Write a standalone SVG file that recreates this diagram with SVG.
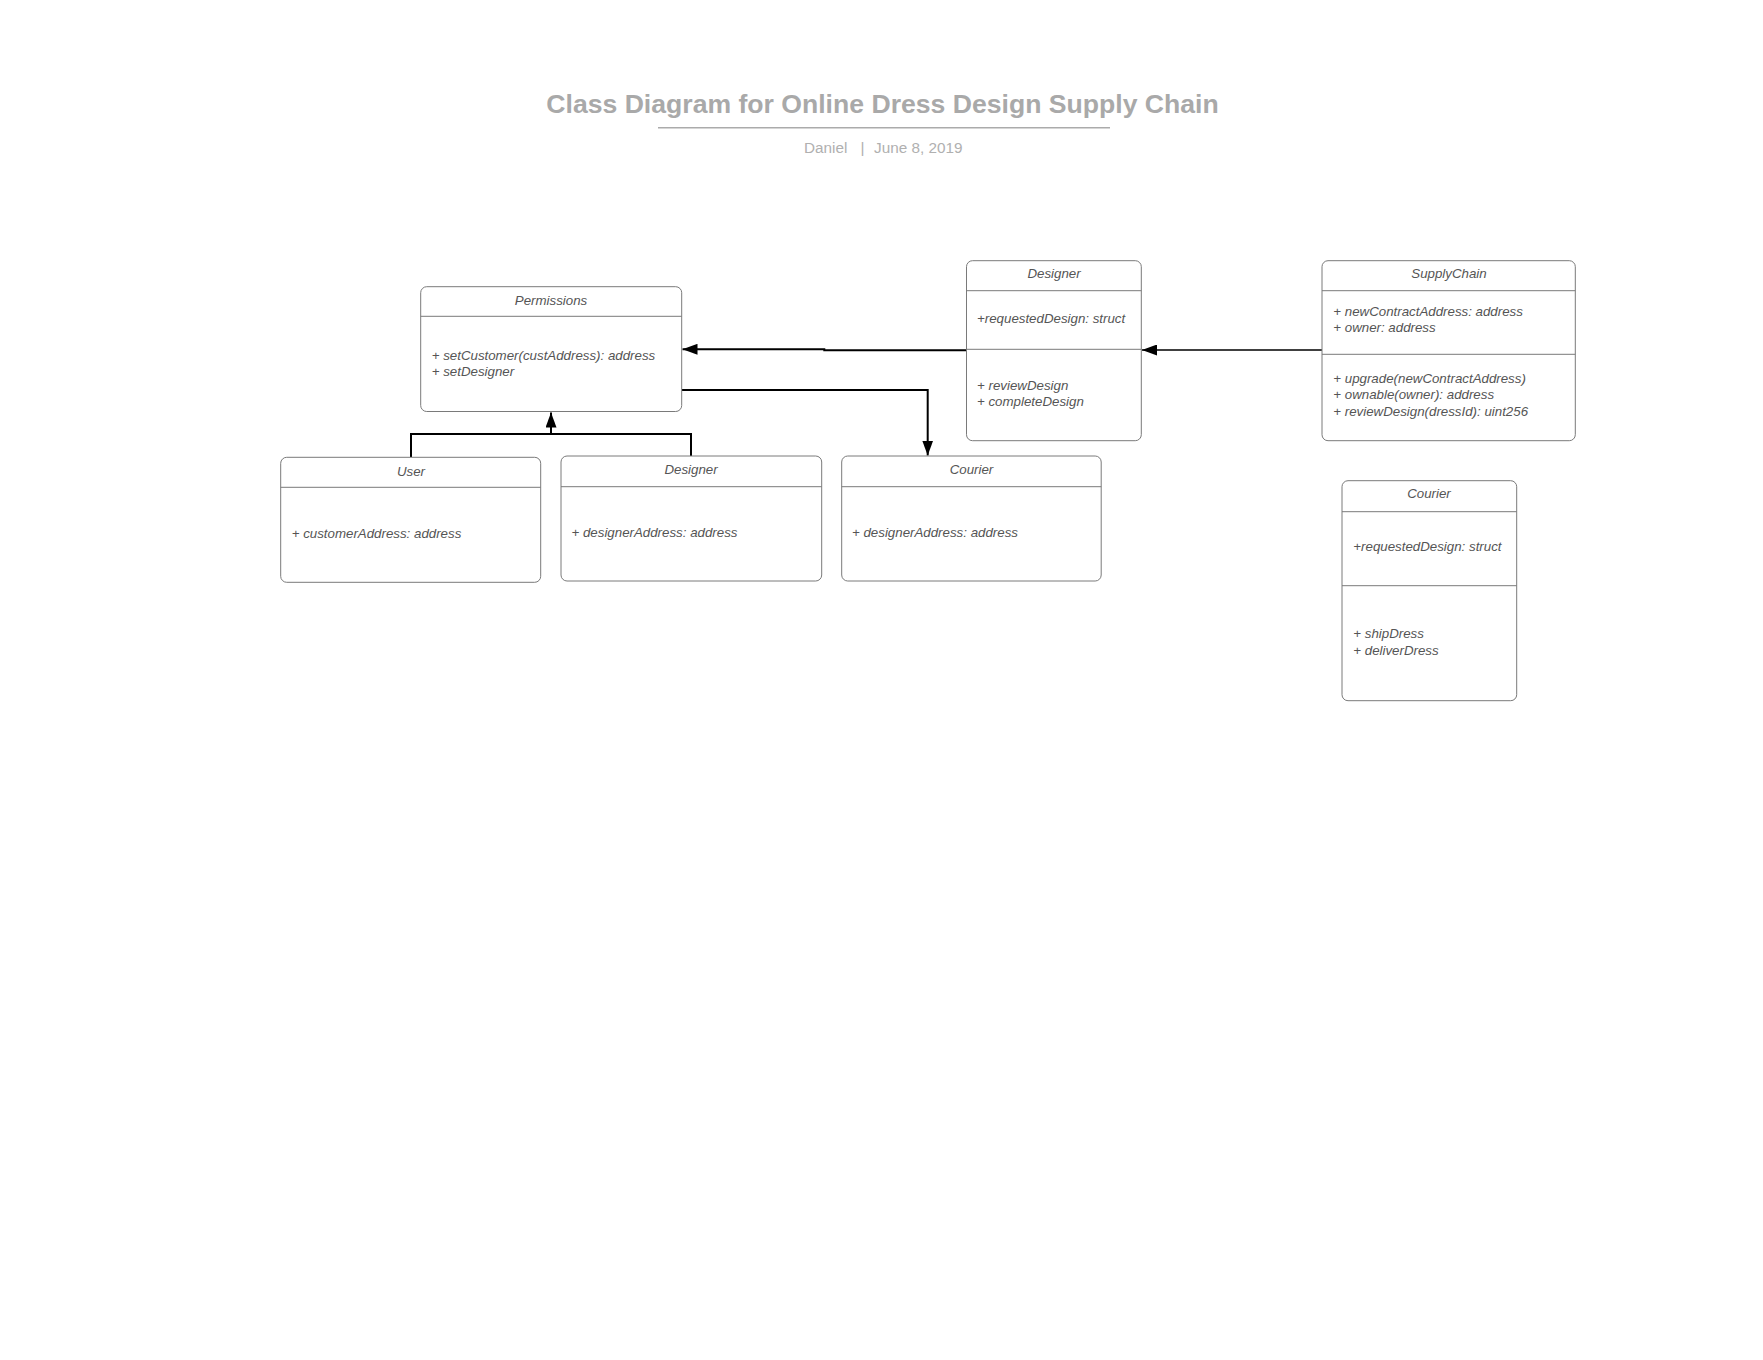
<svg xmlns="http://www.w3.org/2000/svg" width="1763" height="1360" viewBox="0 0 1763 1360">
<style>
  .box { fill: #ffffff; stroke: #7a7a7a; stroke-width: 1; }
  .sep { stroke: #7a7a7a; stroke-width: 1; fill: none; }
  .t { font-family: "Liberation Sans", Arial, sans-serif; font-size: 13.3px; font-style: italic; fill: #555555; }
  .c { text-anchor: middle; }
  .conn { fill: none; stroke: #000000; stroke-width: 2; }
  .thin { stroke-width: 1.4; }
  .title { font-family: "Liberation Sans", Arial, sans-serif; font-size: 26.6px; font-weight: bold; fill: #a9a9a9; }
  .sub { font-family: "Liberation Sans", Arial, sans-serif; font-size: 15.3px; fill: #b0b0b0; }
</style>
<defs>
  <marker id="arr" markerUnits="userSpaceOnUse" markerWidth="16" markerHeight="11" refX="15" refY="5.5" orient="auto">
    <path d="M0,0 L15,5.5 L0,11 Z" fill="#000000"/>
  </marker>
</defs>
<rect width="1763" height="1360" fill="#ffffff"/>

<g id="header">
  <text class="title" x="882.5" y="113.3" text-anchor="middle">Class Diagram for Online Dress Design Supply Chain</text>
  <line x1="658" y1="127.7" x2="1110" y2="127.7" stroke="#ababab" stroke-width="1.6"/>
  <text class="sub" x="804" y="153.3">Daniel</text>
  <text class="sub" x="860.5" y="153.3">|</text>
  <text class="sub" x="874" y="153.3">June 8, 2019</text>
</g>

<g id="connectors">
  <path class="conn" d="M411,457 V434 H691 V456"/>
  <path class="conn" d="M551,434 V412.5" marker-end="url(#arr)"/>
  <path class="conn" d="M966,350.3 H824.3 V349.3 H682.5" marker-end="url(#arr)"/>
  <path class="conn" d="M682,390 H927.7 V455.5" marker-end="url(#arr)"/>
  <path class="conn thin" d="M1322,350 H1142" marker-end="url(#arr)"/>
</g>

<g id="permissions">
  <rect class="box" x="420.7" y="286.7" width="261" height="124.8" rx="6"/>
  <line class="sep" x1="420.7" y1="316.3" x2="681.7" y2="316.3"/>
  <text class="t c" x="551" y="304.8">Permissions</text>
  <text class="t" x="431.7" y="359.8">+ setCustomer(custAddress): address</text>
  <text class="t" x="431.7" y="375.8">+ setDesigner</text>
</g>

<g id="user">
  <rect class="box" x="280.7" y="457.3" width="260" height="125" rx="6"/>
  <line class="sep" x1="280.7" y1="487.3" x2="540.7" y2="487.3"/>
  <text class="t c" x="411" y="475.5">User</text>
  <text class="t" x="291.7" y="538">+ customerAddress: address</text>
</g>

<g id="designer-sub">
  <rect class="box" x="561" y="456" width="260.7" height="125" rx="6"/>
  <line class="sep" x1="561" y1="486.7" x2="821.7" y2="486.7"/>
  <text class="t c" x="691" y="474">Designer</text>
  <text class="t" x="571.5" y="536.5">+ designerAddress: address</text>
</g>

<g id="courier-sub">
  <rect class="box" x="841.7" y="456" width="259.5" height="125" rx="6"/>
  <line class="sep" x1="841.7" y1="486.7" x2="1101.2" y2="486.7"/>
  <text class="t c" x="971.5" y="474">Courier</text>
  <text class="t" x="852" y="536.5">+ designerAddress: address</text>
</g>

<g id="designer">
  <rect class="box" x="966.5" y="260.7" width="174.8" height="180" rx="6"/>
  <line class="sep" x1="966.5" y1="290.7" x2="1141.3" y2="290.7"/>
  <line class="sep" x1="966.5" y1="349.3" x2="1141.3" y2="349.3"/>
  <text class="t c" x="1054" y="277.8">Designer</text>
  <text class="t" x="977" y="323">+requestedDesign: struct</text>
  <text class="t" x="977" y="389.8">+ reviewDesign</text>
  <text class="t" x="977" y="406">+ completeDesign</text>
</g>

<g id="supplychain">
  <rect class="box" x="1322" y="260.7" width="253.3" height="180" rx="6"/>
  <line class="sep" x1="1322" y1="290.7" x2="1575.3" y2="290.7"/>
  <line class="sep" x1="1322" y1="354.3" x2="1575.3" y2="354.3"/>
  <text class="t c" x="1449" y="277.8">SupplyChain</text>
  <text class="t" x="1333.3" y="315.7">+ newContractAddress: address</text>
  <text class="t" x="1333.3" y="332">+ owner: address</text>
  <text class="t" x="1333.3" y="383">+ upgrade(newContractAddress)</text>
  <text class="t" x="1333.3" y="399.3">+ ownable(owner): address</text>
  <text class="t" x="1333.3" y="416">+ reviewDesign(dressId): uint256</text>
</g>

<g id="courier">
  <rect class="box" x="1342" y="480.7" width="174.7" height="220" rx="6"/>
  <line class="sep" x1="1342" y1="511.7" x2="1516.7" y2="511.7"/>
  <line class="sep" x1="1342" y1="585.7" x2="1516.7" y2="585.7"/>
  <text class="t c" x="1429" y="498.2">Courier</text>
  <text class="t" x="1353.3" y="551.3">+requestedDesign: struct</text>
  <text class="t" x="1353.3" y="638">+ shipDress</text>
  <text class="t" x="1353.3" y="654.6">+ deliverDress</text>
</g>
</svg>
